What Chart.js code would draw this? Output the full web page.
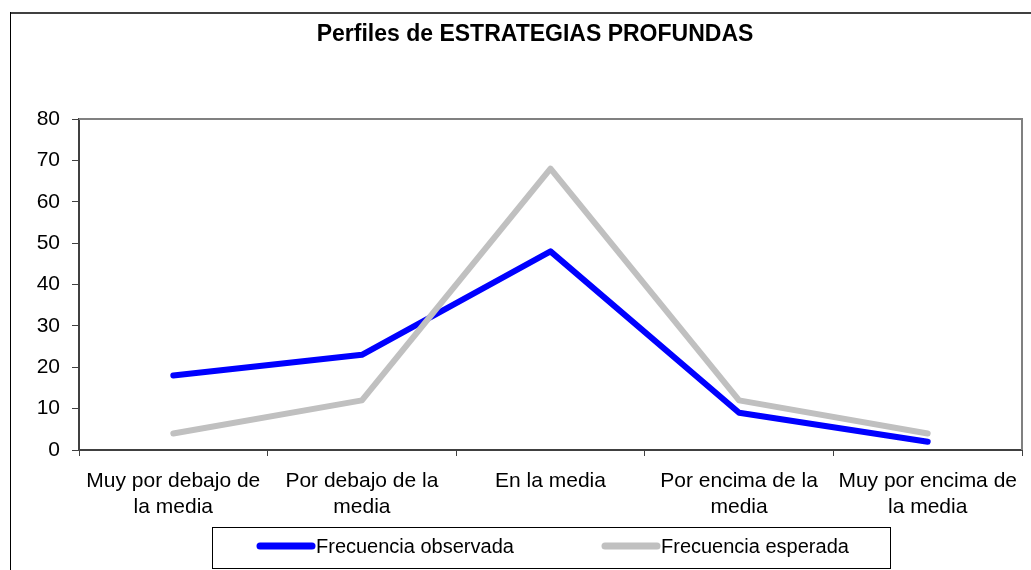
<!DOCTYPE html>
<html>
<head>
<meta charset="utf-8">
<title>Perfiles de ESTRATEGIAS PROFUNDAS</title>
<script src="https://cdn.jsdelivr.net/npm/chart.js@4.4.0/dist/chart.umd.min.js"></script>
<style>
  html, body { margin: 0; padding: 0; background: #ffffff; overflow: hidden; width: 1031px; height: 570px; }
  canvas { display: block; }
</style>
</head>
<body>
<canvas id="chart" width="1060" height="570"></canvas>
<script>
// Categories (two-line labels) and the two frequency profiles
const categories = [
  ["Muy por debajo de", "la media"],
  ["Por debajo de la", "media"],
  ["En la media"],
  ["Por encima de la", "media"],
  ["Muy por encima de", "la media"]
];
const seriesNames = ["Frecuencia observada", "Frecuencia esperada"];
const observed = [18, 23, 48, 9, 2];
const expected = [4, 12, 68, 12, 4];
const yTicks = [0, 10, 20, 30, 40, 50, 60, 70, 80];

const FONT = '"Liberation Sans", Arial, Helvetica, sans-serif';

// White background plus the outer frame edges (top and left)
const framePlugin = {
  id: 'frame',
  beforeDraw(chart) {
    const ctx = chart.ctx;
    ctx.save();
    ctx.fillStyle = '#ffffff';
    ctx.fillRect(0, 0, chart.width, chart.height);
    ctx.strokeStyle = '#404040';
    ctx.lineWidth = 2;
    ctx.beginPath();
    ctx.moveTo(10, 13);
    ctx.lineTo(chart.width, 13);
    ctx.stroke();
    ctx.strokeStyle = '#000000';
    ctx.lineWidth = 1;
    ctx.beginPath();
    ctx.moveTo(10.5, 12);
    ctx.lineTo(10.5, chart.height);
    ctx.stroke();
    ctx.restore();
  }
};

// Grey top and right edges of the plot area
const plotBorderPlugin = {
  id: 'plotBorder',
  beforeDatasetsDraw(chart) {
    const { ctx, chartArea: a } = chart;
    ctx.save();
    ctx.strokeStyle = '#808080';
    ctx.lineWidth = 2;
    ctx.beginPath();
    ctx.moveTo(a.left, a.top);
    ctx.lineTo(a.right, a.top);
    ctx.lineTo(a.right, a.bottom);
    ctx.stroke();
    ctx.restore();
  }
};

// Boxed legend below the axis, entries taken from the datasets
const boxLegendPlugin = {
  id: 'boxLegend',
  afterDraw(chart) {
    const ctx = chart.ctx;
    ctx.save();
    ctx.strokeStyle = '#000000';
    ctx.lineWidth = 1;
    ctx.strokeRect(212.5, 527.5, 678, 41);
    const starts = [257, 602];
    const y = 546;
    ctx.font = '20px ' + FONT;
    ctx.textBaseline = 'middle';
    ctx.textAlign = 'left';
    chart.data.datasets.forEach((ds, i) => {
      const x0 = starts[i];
      ctx.strokeStyle = ds.borderColor;
      ctx.lineWidth = 7;
      ctx.lineCap = 'round';
      ctx.beginPath();
      ctx.moveTo(x0 + 3, y);
      ctx.lineTo(x0 + 55, y);
      ctx.stroke();
      ctx.fillStyle = '#000000';
      ctx.fillText(ds.label, x0 + 59, y + 1);
    });
    ctx.restore();
  }
};

new Chart(document.getElementById('chart'), {
  type: 'line',
  data: {
    labels: categories,
    datasets: [
      {
        label: seriesNames[0],
        data: observed,
        borderColor: '#0000ff',
        backgroundColor: '#0000ff',
        borderWidth: 6,
        order: 1
      },
      {
        label: seriesNames[1],
        data: expected,
        borderColor: '#c0c0c0',
        backgroundColor: '#c0c0c0',
        borderWidth: 6,
        order: 0
      }
    ]
  },
  options: {
    responsive: false,
    animation: false,
    devicePixelRatio: 1,
    layout: { padding: { left: 10, right: 0, top: 0, bottom: 0 } },
    elements: {
      point: { radius: 0, hoverRadius: 0 },
      line: { tension: 0, borderCapStyle: 'round', borderJoinStyle: 'round', fill: false }
    },
    plugins: {
      legend: { display: false },
      tooltip: { enabled: false },
      title: {
        display: true,
        text: 'Perfiles de ESTRATEGIAS PROFUNDAS',
        color: '#000000',
        font: { family: FONT, size: 23, weight: 'bold', lineHeight: 1.2 },
        padding: { top: 21.2, bottom: 70.2 }
      }
    },
    scales: {
      x: {
        type: 'category',
        offset: true,
        afterFit(scale) { scale.height = 120; },
        grid: {
          offset: true,
          drawOnChartArea: false,
          drawTicks: true,
          tickLength: 6,
          color: '#404040',
          lineWidth: 1
        },
        border: { display: true, color: '#404040', width: 2 },
        ticks: {
          color: '#000000',
          padding: 13,
          maxRotation: 0,
          autoSkip: false,
          font: { family: FONT, size: 21, lineHeight: 1.2 }
        }
      },
      y: {
        min: 0,
        max: 80,
        afterFit(scale) { scale.width = 69; },
        afterBuildTicks(scale) { scale.ticks = yTicks.map(v => ({ value: v })); },
        grid: {
          drawOnChartArea: false,
          drawTicks: true,
          tickLength: 7,
          color: '#404040',
          lineWidth: 1
        },
        border: { display: true, color: '#404040', width: 2 },
        ticks: {
          color: '#000000',
          padding: 12,
          font: { family: FONT, size: 21 }
        }
      },
      // spacer on the right: the frame continues past the visible edge
      yRight: {
        type: 'linear',
        position: 'right',
        afterFit(scale) { scale.width = 38; },
        grid: { display: false, drawTicks: false },
        border: { display: false },
        ticks: { display: false }
      }
    }
  },
  plugins: [framePlugin, plotBorderPlugin, boxLegendPlugin]
});
</script>
</body>
</html>
